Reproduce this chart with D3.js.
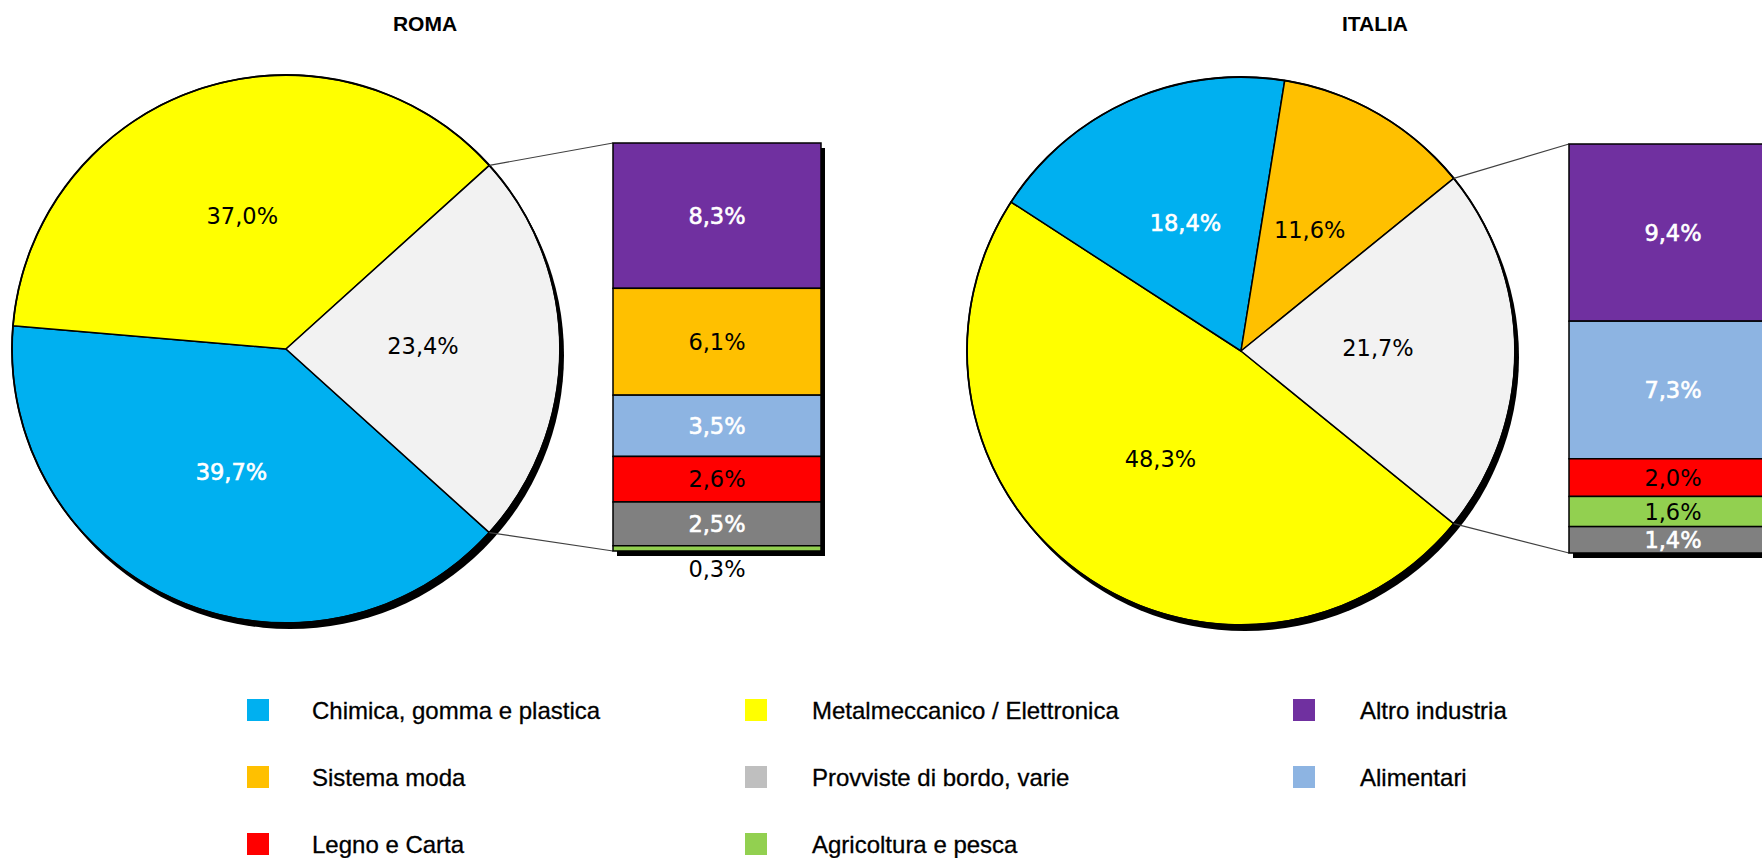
<!DOCTYPE html>
<html>
<head>
<meta charset="utf-8">
<script src="https://cdn.jsdelivr.net/npm/d3@7"></script>
<style>
  html, body { margin: 0; padding: 0; background: #ffffff; }
  svg { display: block; }
</style>
</head>
<body>
<svg id="chart" width="1762" height="858"></svg>
<script>
// ---- Data ----------------------------------------------------------------
const legendCategories = [
  "Chimica, gomma e plastica", "Metalmeccanico / Elettronica", "Altro industria",
  "Sistema moda", "Provviste di bordo, varie", "Alimentari",
  "Legno e Carta", "Agricoltura e pesca"
];

const panelTitles = ["ROMA", "ITALIA"];

// ROMA: main pie slices (clockwise from the split) and the broken-out "other" stack
const romaPieCategories = ["Chimica, gomma e plastica", "Metalmeccanico / Elettronica"];
const romaPieValues = [39.7, 37.0];
const romaOtherValue = 23.4;
const romaBarCategories = ["Altro industria", "Sistema moda", "Alimentari", "Legno e Carta", "Provviste di bordo, varie", "Agricoltura e pesca"];
const romaBarValues = [8.3, 6.1, 3.5, 2.6, 2.5, 0.3];

// ITALIA
const italiaPieCategories = ["Metalmeccanico / Elettronica", "Chimica, gomma e plastica", "Sistema moda"];
const italiaPieValues = [48.3, 18.4, 11.6];
const italiaOtherValue = 21.7;
const italiaBarCategories = ["Altro industria", "Alimentari", "Legno e Carta", "Agricoltura e pesca", "Provviste di bordo, varie"];
const italiaBarValues = [9.4, 7.3, 2.0, 1.6, 1.4];

// ---- Styles ----------------------------------------------------------------
const OTHER = "__other__";
const fillColor = d3.scaleOrdinal()
  .domain([...legendCategories, OTHER])
  .range(["#00B0F0", "#FFFF00", "#7030A0", "#FFC000", "#808080", "#8DB4E2", "#FF0000", "#92D050", "#F2F2F2"]);
const legendColor = d3.scaleOrdinal()
  .domain(legendCategories)
  .range(["#00B0F0", "#FFFF00", "#7030A0", "#FFC000", "#BFBFBF", "#8DB4E2", "#FF0000", "#92D050"]);
const whiteText = new Set(["Chimica, gomma e plastica", "Altro industria", "Alimentari", "Provviste di bordo, varie"]);
const textColor = c => whiteText.has(c) ? "#ffffff" : "#000000";

const fmt = v => d3.format(".1f")(v).replace(".", ",") + "%";

const labelFont = "'DejaVu Sans', Verdana, sans-serif";
const legendFont = "'Liberation Sans', Arial, sans-serif";

const svg = d3.select("#chart");

// ---- Panels ----------------------------------------------------------------
const panels = [
  {
    title: panelTitles[0], titleX: 425,
    pieCats: romaPieCategories, pieVals: romaPieValues, other: romaOtherValue,
    barCats: romaBarCategories, barVals: romaBarValues,
    cx: 286, cy: 349, r: 274,
    barX: 613, barTop: 143, barW: 208, barH: 408
  },
  {
    title: panelTitles[1], titleX: 1375,
    pieCats: italiaPieCategories, pieVals: italiaPieValues, other: italiaOtherValue,
    barCats: italiaBarCategories, barVals: italiaBarValues,
    cx: 1241, cy: 351, r: 274,
    barX: 1569, barTop: 144, barW: 208, barH: 409
  }
];

// white labels on saturated fills read slightly heavier
const applyLabelStyle = (sel, colorFn) => sel
  .attr("fill", colorFn)
  .attr("stroke", d => colorFn(d) === "#ffffff" ? "#ffffff" : "none")
  .attr("stroke-width", 0.6);

panels.forEach(p => {
  const g = svg.append("g");

  // Title
  g.append("text")
    .attr("x", p.titleX).attr("y", 31)
    .attr("text-anchor", "middle")
    .attr("font-family", legendFont)
    .attr("font-weight", "bold")
    .attr("font-size", 21)
    .attr("fill", "#000")
    .text(p.title);

  // Pie: the "other" slice is centred on the right-hand side, facing the stack
  const pieData = p.pieCats.map((c, i) => ({ cat: c, value: p.pieVals[i] }))
    .concat([{ cat: OTHER, value: p.other }]);
  const total = d3.sum(pieData, d => d.value);
  const otherAngle = 2 * Math.PI * p.other / total;
  const start = Math.PI / 2 + otherAngle / 2;
  const pie = d3.pie().value(d => d.value).sort(null)
    .startAngle(start).endAngle(start + 2 * Math.PI);
  const arcs = pie(pieData);
  const arc = d3.arc().innerRadius(0).outerRadius(p.r);

  const pg = g.append("g").attr("transform", `translate(${p.cx},${p.cy})`);

  // drop shadow
  pg.append("circle").attr("cx", 4).attr("cy", 6).attr("r", p.r).attr("fill", "#000");

  pg.selectAll("path.slice").data(arcs).join("path")
    .attr("class", "slice")
    .attr("d", arc)
    .attr("fill", d => fillColor(d.data.cat))
    .attr("stroke", "#000")
    .attr("stroke-width", 1.5)
    .attr("stroke-linejoin", "round");

  pg.append("circle").attr("r", p.r).attr("fill", "none").attr("stroke", "#000").attr("stroke-width", 1.8);

  pg.selectAll("text.plabel").data(arcs).join("text")
    .attr("class", "plabel")
    .attr("x", d => arc.centroid(d)[0])
    .attr("y", d => arc.centroid(d)[1] - 3)
    .attr("dy", "0.36em")
    .attr("text-anchor", "middle")
    .attr("font-family", labelFont)
    .attr("font-size", 22.5)
    .call(applyLabelStyle, d => d.data.cat === OTHER ? "#000000" : textColor(d.data.cat))
    .text(d => fmt(d.data.value));

  // Stacked bar of the "other" categories
  const barTotal = d3.sum(p.barVals);
  const y = d3.scaleLinear().domain([0, barTotal]).range([p.barTop, p.barTop + p.barH]);
  const cum = d3.cumsum(p.barVals);
  const segs = p.barCats.map((c, i) => ({ cat: c, value: p.barVals[i], y0: cum[i] - p.barVals[i], y1: cum[i] }));
  const segH = d => y(d.y1) - y(d.y0);

  // connector lines from the split points to the bar corners
  const a0 = start - otherAngle;   // upper split
  const a1 = start;                // lower split
  const pt = a => [p.cx + p.r * Math.sin(a), p.cy - p.r * Math.cos(a)];
  const up = pt(a0), lo = pt(a1);
  g.append("line").attr("x1", up[0]).attr("y1", up[1]).attr("x2", p.barX).attr("y2", y(0))
    .attr("stroke", "#404040").attr("stroke-width", 1.2);
  g.append("line").attr("x1", lo[0]).attr("y1", lo[1]).attr("x2", p.barX).attr("y2", y(barTotal))
    .attr("stroke", "#404040").attr("stroke-width", 1.2);

  g.append("rect")
    .attr("x", p.barX + 4).attr("y", y(0) + 5)
    .attr("width", p.barW).attr("height", y(barTotal) - y(0))
    .attr("fill", "#000");

  g.selectAll("rect.seg").data(segs).join("rect")
    .attr("class", "seg")
    .attr("x", p.barX)
    .attr("y", d => y(d.y0))
    .attr("width", p.barW)
    .attr("height", segH)
    .attr("fill", d => fillColor(d.cat))
    .attr("stroke", "#000")
    .attr("stroke-width", 1.5);

  g.selectAll("text.blabel").data(segs).join("text")
    .attr("class", "blabel")
    .attr("x", p.barX + p.barW / 2)
    .attr("y", d => segH(d) < 16 ? y(barTotal) + 18 : (y(d.y0) + y(d.y1)) / 2)
    .attr("dy", "0.36em")
    .attr("text-anchor", "middle")
    .attr("font-family", labelFont)
    .attr("font-size", 22.5)
    .call(applyLabelStyle, d => segH(d) < 16 ? "#000000" : textColor(d.cat))
    .text(d => fmt(d.value));
});

// ---- Legend ----------------------------------------------------------------
const legendColsSwatch = [247, 745, 1293];
const legendColsText = [312, 812, 1360];
const legendRows = [710, 777, 844];

const lg = svg.append("g");
legendCategories.forEach((c, i) => {
  const col = i % 3, row = Math.floor(i / 3);
  lg.append("rect")
    .attr("x", legendColsSwatch[col]).attr("y", legendRows[row] - 11)
    .attr("width", 22).attr("height", 22)
    .attr("fill", legendColor(c));
  lg.append("text")
    .attr("x", legendColsText[col]).attr("y", legendRows[row])
    .attr("dy", "0.36em")
    .attr("font-family", legendFont)
    .attr("font-size", 24)
    .attr("fill", "#000")
    .attr("stroke", "#000")
    .attr("stroke-width", 0.3)
    .text(c);
});
</script>
</body>
</html>
